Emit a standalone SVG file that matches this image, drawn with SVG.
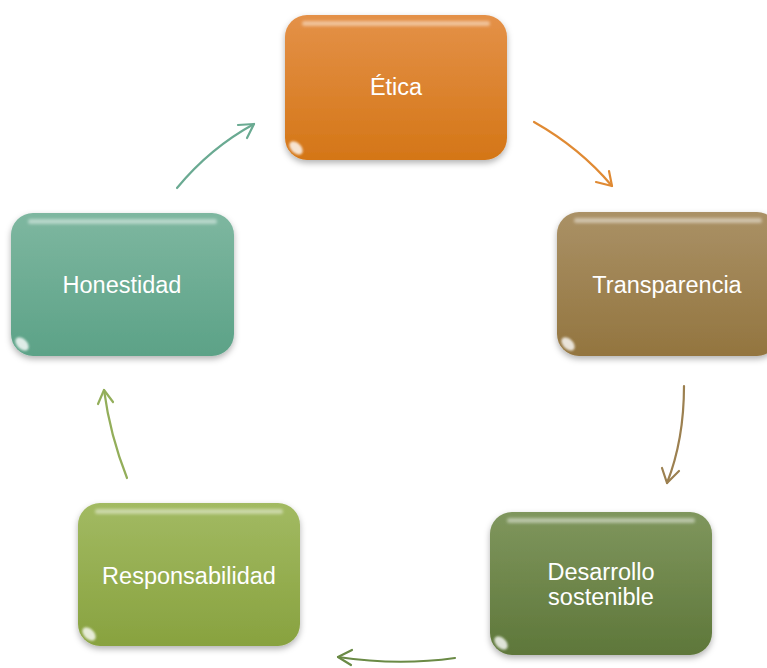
<svg xmlns="http://www.w3.org/2000/svg" width="767" height="668" viewBox="0 0 767 668">
<style>
.lbl{font-family:"Liberation Sans",Arial,sans-serif;font-size:23.5px;fill:#ffffff;text-anchor:middle}
.hl{fill:#ffffff;fill-opacity:0.45;filter:url(#bl)}
.spot{fill:#ffffff;opacity:0.8;filter:url(#bl2)}
.conn{fill:none;stroke-width:2.2;stroke-linecap:round;stroke-linejoin:round}
</style>
<defs>
<linearGradient id="gO" x1="0" y1="0" x2="0" y2="1"><stop offset="0" stop-color="#E49148"/><stop offset="1" stop-color="#D47617"/></linearGradient>
<linearGradient id="gT" x1="0" y1="0" x2="0" y2="1"><stop offset="0" stop-color="#AA9166"/><stop offset="1" stop-color="#93753F"/></linearGradient>
<linearGradient id="gD" x1="0" y1="0" x2="0" y2="1"><stop offset="0" stop-color="#7F965D"/><stop offset="1" stop-color="#5E773A"/></linearGradient>
<linearGradient id="gR" x1="0" y1="0" x2="0" y2="1"><stop offset="0" stop-color="#A2BA62"/><stop offset="1" stop-color="#88A23F"/></linearGradient>
<linearGradient id="gH" x1="0" y1="0" x2="0" y2="1"><stop offset="0" stop-color="#7EB7A0"/><stop offset="1" stop-color="#5CA287"/></linearGradient>
<filter id="sh" x="-10%" y="-10%" width="120%" height="130%"><feDropShadow dx="0" dy="3" stdDeviation="3" flood-color="#000" flood-opacity="0.3"/></filter>
<filter id="bl" x="-10%" y="-200%" width="120%" height="500%"><feGaussianBlur stdDeviation="1.5"/></filter>
<filter id="bl2" x="-100%" y="-100%" width="300%" height="300%"><feGaussianBlur stdDeviation="1.2"/></filter>
</defs>

<g id="connectors">
<path class="conn" stroke="#E08A33" d="M534,122 Q580,148 612,186"/>
<path class="conn" stroke="#E08A33" d="M596,182 L612,186 L609,171"/>
<path class="conn" stroke="#9C8050" d="M684,386 Q684,440 667,483"/>
<path class="conn" stroke="#9C8050" d="M662,468 L667,483 L679,471"/>
<path class="conn" stroke="#6A8A45" d="M455,658 Q398,666 338,657"/>
<path class="conn" stroke="#6A8A45" d="M352,650 L338,657 L351,665"/>
<path class="conn" stroke="#93AE5A" d="M127,478 Q110,435 104,390"/>
<path class="conn" stroke="#93AE5A" d="M98,404 L104,390 L113,402"/>
<path class="conn" stroke="#6AAA92" d="M177,188 Q210,148 254,124"/>
<path class="conn" stroke="#6AAA92" d="M238,125 L254,124 L247,138"/>
</g>

<g id="etica">
<rect x="285" y="15" width="222" height="145" rx="22" fill="url(#gO)" filter="url(#sh)"/>
<rect class="hl" x="302" y="21" width="188" height="5" rx="2.5"/>
<ellipse class="spot" cx="296" cy="148" rx="8" ry="5" transform="rotate(45 296 148)"/>
<text class="lbl" x="396" y="95">Ética</text>
</g>

<g id="transparencia">
<rect x="557" y="212" width="222" height="144" rx="22" fill="url(#gT)" filter="url(#sh)"/>
<rect class="hl" x="574" y="218" width="188" height="5" rx="2.5"/>
<ellipse class="spot" cx="568" cy="344" rx="8" ry="5" transform="rotate(45 568 344)"/>
<text class="lbl" x="667" y="293">Transparencia</text>
</g>

<g id="desarrollo">
<rect x="490" y="512" width="222" height="143" rx="22" fill="url(#gD)" filter="url(#sh)"/>
<rect class="hl" x="507" y="518" width="188" height="5" rx="2.5"/>
<ellipse class="spot" cx="501" cy="643" rx="8" ry="5" transform="rotate(45 501 643)"/>
<text class="lbl" x="601" y="580">Desarrollo</text>
<text class="lbl" x="601" y="605">sostenible</text>
</g>

<g id="responsabilidad">
<rect x="78" y="503" width="222" height="143" rx="22" fill="url(#gR)" filter="url(#sh)"/>
<rect class="hl" x="95" y="509" width="188" height="5" rx="2.5"/>
<ellipse class="spot" cx="89" cy="634" rx="8" ry="5" transform="rotate(45 89 634)"/>
<text class="lbl" x="189" y="584">Responsabilidad</text>
</g>

<g id="honestidad">
<rect x="11" y="213" width="223" height="143" rx="22" fill="url(#gH)" filter="url(#sh)"/>
<rect class="hl" x="28" y="219" width="189" height="5" rx="2.5"/>
<ellipse class="spot" cx="22" cy="344" rx="8" ry="5" transform="rotate(45 22 344)"/>
<text class="lbl" x="122" y="293">Honestidad</text>
</g>
</svg>
